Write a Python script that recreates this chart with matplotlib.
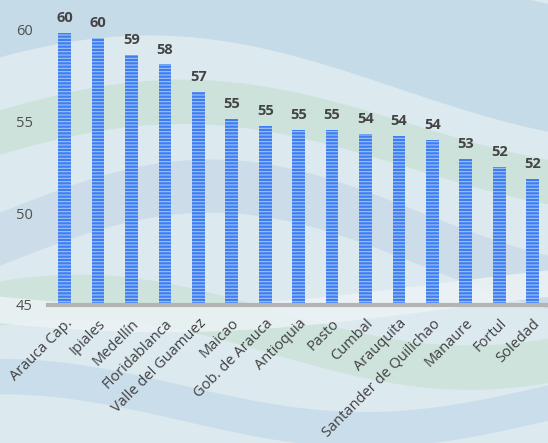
import numpy as np
import matplotlib
matplotlib.use("Agg")
import matplotlib.pyplot as plt

categories = ["Arauca Cap.", "Ipiales", "Medellín", "Floridablanca", "Valle del Guamuez",
              "Maicao", "Gob. de Arauca", "Antioquia", "Pasto", "Cumbal", "Arauquita",
              "Santander de Quilichao", "Manaure", "Fortul", "Soledad"]
values = [59.8, 59.55, 58.6, 58.1, 56.6, 55.15, 54.75, 54.55, 54.55, 54.3, 54.2,
          54.0, 52.95, 52.5, 51.85]
yticks = [45, 50, 55, 60]

plt.rcParams['font.family'] = ['Open Sans', 'DejaVu Sans']
plt.rcParams['hatch.linewidth'] = 0.8
plt.rcParams['hatch.color'] = '#a3c2f4'

fig = plt.figure(figsize=(5.48, 4.43), dpi=100)
fig.patch.set_facecolor('#dce9ef')

# decorative wavy background
bg = fig.add_axes([0, 0, 1, 1], zorder=0)
bg.set_xlim(0, 1); bg.set_ylim(0, 1); bg.axis('off')
xs = np.linspace(0, 1, 300)
def wave(a, b, c, d):
    return a + b * np.sin(2 * np.pi * (c * xs + d))
bands = [
    (wave(0.80, 0.12, 0.55, 0.10), wave(1.05, 0.10, 0.55, 0.05), '#c0d8e6'),
    (wave(0.62, 0.10, 0.60, 0.05), wave(0.72, 0.10, 0.60, 0.05), '#c8e1d6'),
    (wave(0.40, 0.12, 0.65, 0.00), wave(0.52, 0.12, 0.65, 0.00), '#c8dbe8'),
    (wave(0.20, 0.08, 0.70, 0.15), wave(0.30, 0.08, 0.70, 0.15), '#cae2d6'),
    (wave(0.05, 0.06, 0.75, 0.25), wave(0.13, 0.06, 0.75, 0.25), '#c6dbe9'),
    (wave(0.30, 0.05, 0.50, 0.60), wave(0.36, 0.05, 0.50, 0.60), '#eef4f6'),
]
for lo, hi, col in bands:
    bg.fill_between(xs, lo, hi, color=col, lw=0, alpha=0.8)

ax = fig.add_axes([48 / 548, (443 - 305) / 443, 1 - 48 / 548, 305 / 443], zorder=1)
ax.patch.set_alpha(0)
x = np.arange(len(categories))
ax.bar(x, values, width=0.38, bottom=0, color='#3d7ff3', edgecolor='#a3c2f4',
       linewidth=0, hatch='-----', zorder=2)
ax.set_xlim(-0.5, 14.46)
ax.set_ylim(45, 61.6)
for xi, v in zip(x, values):
    ax.text(xi, v + 0.42, f"{v:.0f}", ha='center', va='bottom', fontsize=10.5,
            fontweight='bold', color='#444444', clip_on=False)

ax.set_yticks(yticks)
ax.set_yticklabels([str(t) for t in yticks], fontsize=10.5, color='#505050')
ax.set_xticks(x)
ax.set_xticklabels(categories, rotation=45, ha='right', rotation_mode='anchor',
                   fontsize=10.5, color='#404040')
ax.tick_params(axis='both', length=0)
ax.tick_params(axis='y', pad=11)
ax.tick_params(axis='x', pad=8)
for s in ['top', 'right', 'left']:
    ax.spines[s].set_visible(False)
ax.spines['bottom'].set_color('#b4b4b4')
ax.spines['bottom'].set_linewidth(3)
ax.spines['bottom'].set_zorder(3)

fig.savefig('out.png', dpi=100, facecolor=fig.get_facecolor())
